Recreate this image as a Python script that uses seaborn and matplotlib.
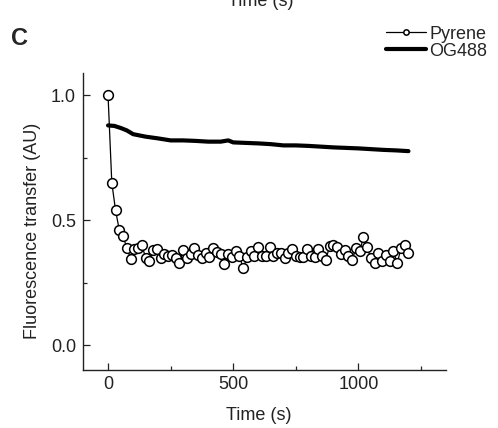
import numpy as np
import pandas as pd
import seaborn as sns
import matplotlib.pyplot as plt
from matplotlib.ticker import MultipleLocator

# Pyrene: sampled every 15 s
pyrene_time = list(range(0, 1201, 15))
pyrene_value = [
    1.00, 0.65, 0.54, 0.46, 0.435, 0.39, 0.345, 0.385, 0.39, 0.40,
    0.35, 0.335, 0.38, 0.385, 0.35, 0.365, 0.355, 0.36, 0.35, 0.33,
    0.38, 0.347, 0.363, 0.39, 0.36, 0.35, 0.37, 0.351, 0.39, 0.372,
    0.364, 0.324, 0.364, 0.351, 0.377, 0.355, 0.308, 0.351, 0.377, 0.355,
    0.391, 0.355, 0.355, 0.391, 0.355, 0.37, 0.37, 0.348, 0.37, 0.384,
    0.357, 0.351, 0.351, 0.384, 0.357, 0.351, 0.384, 0.355, 0.34, 0.397,
    0.401, 0.391, 0.364, 0.38, 0.357, 0.34, 0.388, 0.375, 0.431, 0.391,
    0.347, 0.327, 0.37, 0.337, 0.361, 0.337, 0.377, 0.327, 0.388, 0.401,
    0.37,
]

# OG488: continuous trace
og_time = [0, 25, 50, 75, 100, 125, 150, 200, 250, 300, 350, 400, 450, 480,
           500, 550, 600, 650, 700, 750, 800, 850, 900, 950, 1000, 1050,
           1100, 1150, 1200]
og_value = [0.88, 0.878, 0.87, 0.86, 0.845, 0.84, 0.835, 0.828, 0.82, 0.82,
            0.818, 0.815, 0.815, 0.82, 0.812, 0.81, 0.808, 0.805, 0.80, 0.80,
            0.798, 0.795, 0.792, 0.79, 0.788, 0.785, 0.782, 0.78, 0.777]

pyr = pd.DataFrame({"time": pyrene_time, "value": pyrene_value})
og = pd.DataFrame({"time": og_time, "value": og_value})

sns.set_theme(style="ticks")
plt.rcParams["font.family"] = ["Liberation Sans", "DejaVu Sans"]
plt.rcParams["font.size"] = 13

fig = plt.figure(figsize=(4.98, 4.28), dpi=100)
ax = fig.add_axes([0.1667, 0.1355, 0.7289, 0.6939])

sns.lineplot(data=og, x="time", y="value", color="black", lw=3.0,
             ax=ax, label="OG488")
sns.lineplot(data=pyr, x="time", y="value", color="black", lw=0.9,
             marker="o", markersize=7, markerfacecolor="white",
             markeredgecolor="black", markeredgewidth=1.1,
             ax=ax, label="Pyrene")

ax.set_xlim(-100, 1350)
ax.set_ylim(-0.1, 1.09)
ax.xaxis.set_minor_locator(MultipleLocator(250))
ax.yaxis.set_minor_locator(MultipleLocator(0.25))
ax.set_xticks([0, 500, 1000])
ax.set_xticklabels(["0", "500", "1000"])
ax.set_yticks([0.0, 0.5, 1.0])
ax.set_yticklabels(["0.0", "0.5", "1.0"])

ax.tick_params(which="major", direction="in", length=5, width=0.9,
               labelsize=13, colors="#222222")
ax.tick_params(which="minor", direction="in", length=3, width=0.9)
ax.tick_params(axis="x", pad=4)
ax.tick_params(axis="y", pad=5)
for s in ["top", "right"]:
    ax.spines[s].set_visible(False)
for s in ["left", "bottom"]:
    ax.spines[s].set_linewidth(1.0)
    ax.spines[s].set_color("#222222")

ax.set_xlabel("Time (s)", fontsize=13, color="#222222")
ax.set_ylabel("Fluorescence transfer (AU)", fontsize=13, color="#222222")
ax.xaxis.set_label_coords(0.485, -0.125)
ax.yaxis.set_label_coords(-0.115, 0.47)

handles, labels = ax.get_legend_handles_labels()
ax.get_legend().remove()
order = [labels.index("Pyrene"), labels.index("OG488")]
fig.legend([handles[i] for i in order], [labels[i] for i in order],
           loc="upper left", bbox_to_anchor=(0.775, 0.940), frameon=False,
           fontsize=13, handlelength=2.2, handletextpad=0.2,
           labelspacing=0.0, borderpad=0, borderaxespad=0, markerscale=0.55)

fig.text(0.040, 0.911, "C", fontsize=17, fontweight="bold", ha="center",
         va="center")
fig.text(0.524, 1 - 6.5 / 428, "Time (s)", fontsize=13, ha="center",
         va="baseline", color="#222222")

fig.savefig("out.png", dpi=100)
